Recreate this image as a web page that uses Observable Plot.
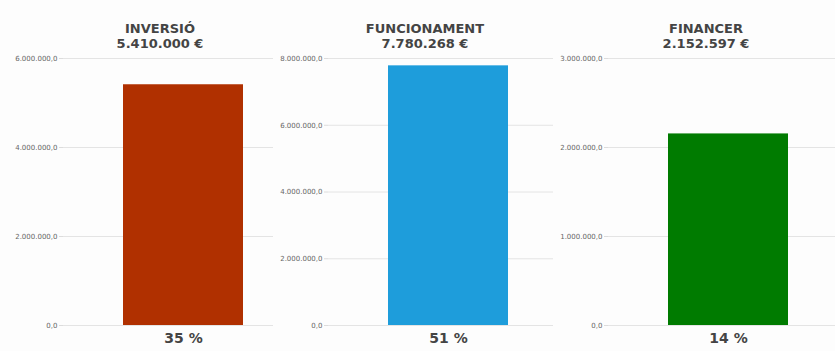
<!DOCTYPE html>
<html>
<head>
<meta charset="utf-8">
<script src="https://cdn.jsdelivr.net/npm/d3@7"></script>
<script src="https://cdn.jsdelivr.net/npm/@observablehq/plot@0.6"></script>
<style>
  html, body { margin: 0; padding: 0; background: #fdfdfd; }
  #root { position: relative; width: 835px; height: 351px; overflow: hidden; }
  .panel { position: absolute; top: 0; }
  .title {
    position: absolute; top: 21px; transform: translateX(-50%);
    font-family: "DejaVu Sans", sans-serif; font-weight: bold; font-size: 13px;
    line-height: 15px; color: #444; text-align: center; white-space: nowrap;
  }
  .title div { height: 15px; }
</style>
</head>
<body>
<div id="root"></div>
<script>
// ---- data ----
const categories = ["INVERSIÓ", "FUNCIONAMENT", "FINANCER"];
const amounts = [5410000, 7780268, 2152597];
const amountLabels = ["5.410.000 €", "7.780.268 €", "2.152.597 €"];
const percentLabels = ["35 %", "51 %", "14 %"];
const yMax = [6000000, 8000000, 3000000];
const yTicks = [
  [0, 2000000, 4000000, 6000000],
  [0, 2000000, 4000000, 6000000, 8000000],
  [0, 1000000, 2000000, 3000000]
];

// ---- styles / layout ----
const barColors = ["#b03000", "#1e9ddb", "#007b00"];
const panels = [
  {left: 0,   width: 278, ml: 63, mr: 5, titleX: 160},
  {left: 278, width: 278, ml: 50, mr: 3, titleX: 425},
  {left: 556, width: 279, ml: 52, mr: 0, titleX: 706}
];

const loc = d3.formatLocale({decimal: ",", thousands: ".", grouping: [3], currency: ["", " €"]});
const fmt = loc.format(",.1f");

const root = document.getElementById("root");

categories.forEach((cat, i) => {
  const p = panels[i];
  const data = [{cat, value: amounts[i], pct: percentLabels[i]}];
  const chart = Plot.plot({
    width: p.width,
    height: 351,
    marginLeft: p.ml,
    marginRight: p.mr,
    marginTop: 58,
    marginBottom: 26,
    style: {background: "transparent", fontFamily: "DejaVu Sans, sans-serif", fontSize: "7px", color: "#666"},
    x: {domain: [cat], range: [p.ml + 60, p.ml + 180], padding: 0, axis: null},
    y: {domain: [0, yMax[i]], ticks: yTicks[i], label: null},
    marks: [
      Plot.gridY(yTicks[i], {stroke: "#e4e4e4", strokeOpacity: 1}),
      Plot.ruleX([0], {frameAnchor: "left", stroke: "#e4e4e4"}),
      Plot.axisY(yTicks[i], {tickSize: 4, tickPadding: 2, stroke: "#dcdcdc", tickFormat: fmt, fill: "#666", fontSize: 7, label: null}),
      Plot.barY(data, {x: "cat", y: "value", fill: barColors[i]}),
      Plot.text(data, {x: "cat", y: 0, text: "pct", dy: 17, lineAnchor: "bottom",
        fontFamily: "DejaVu Sans, sans-serif", fontWeight: "bold", fontSize: 14, fill: "#444"})
    ]
  });
  chart.classList.add("panel");
  chart.style.left = p.left + "px";
  root.appendChild(chart);

  const t = document.createElement("div");
  t.className = "title";
  t.style.left = p.titleX + "px";
  const l1 = document.createElement("div");
  l1.textContent = cat;
  const l2 = document.createElement("div");
  l2.textContent = amountLabels[i];
  t.appendChild(l1);
  t.appendChild(l2);
  root.appendChild(t);
});
</script>
</body>
</html>
